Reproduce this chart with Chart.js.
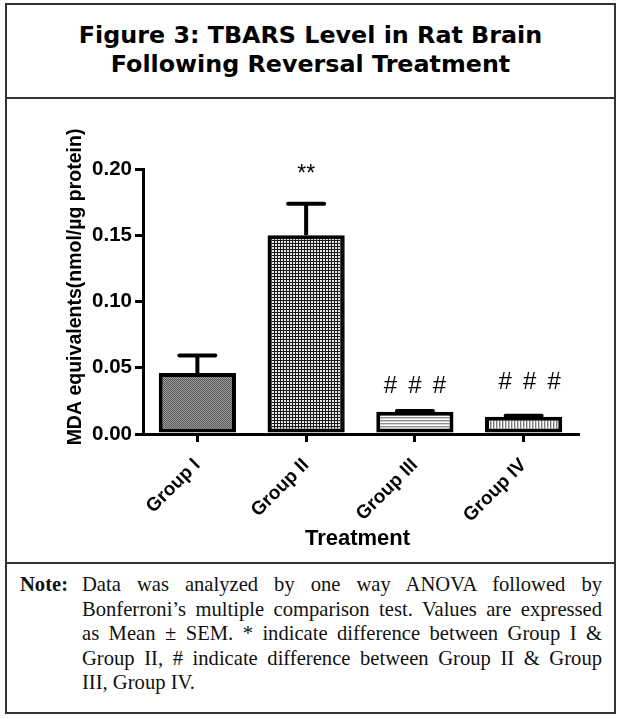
<!DOCTYPE html>
<html><head><meta charset="utf-8">
<script src="https://cdn.jsdelivr.net/npm/chart.js@4.4.0/dist/chart.umd.min.js"></script>
<style>
html,body{margin:0;padding:0;background:#fff;width:621px;height:719px;overflow:hidden;}
#frame{position:absolute;left:5px;top:3px;width:611px;height:711px;box-sizing:border-box;border:2px solid #333;}
.hr{position:absolute;left:5px;width:611px;height:2px;background:#333;}
.tl{position:absolute;left:5px;width:611px;text-align:center;font-family:"DejaVu Sans",sans-serif;font-weight:bold;font-size:23.8px;line-height:29px;color:#000;white-space:nowrap;}
#note{position:absolute;left:20px;top:572px;font-family:"Liberation Serif",serif;font-size:20.6px;line-height:24.5px;color:#111;}
#note .lab{position:absolute;left:0;top:0;font-weight:bold;}
#note .body{position:absolute;left:62px;top:0;width:520px;}
#note .ln{display:block;text-align:justify;text-align-last:justify;white-space:nowrap;}
#note .ln.last{text-align-last:left;}
#c{position:absolute;left:7px;top:99px;}
</style></head>
<body>
<div id="frame"></div>
<div class="tl" style="top:21px;">Figure 3: TBARS Level in Rat Brain</div>
<div class="tl" style="top:50px;">Following Reversal Treatment</div>
<div class="hr" style="top:97px;"></div>
<canvas id="c" width="606" height="462"></canvas>
<div class="hr" style="top:562px;"></div>
<div id="note"><span class="lab">Note:</span><div class="body">
<span class="ln">Data was analyzed by one way ANOVA followed by</span>
<span class="ln">Bonferroni’s multiple comparison test. Values are expressed</span>
<span class="ln">as Mean ± SEM. * indicate difference between Group I &amp;</span>
<span class="ln">Group II, # indicate difference between Group II &amp; Group</span>
<span class="ln last">III, Group IV.</span>
</div></div>
<script>
const categories = ["Group I", "Group II", "Group III", "Group IV"];
const meanValues = [0.046, 0.150, 0.0168, 0.0131];
const semValues = [0.0133, 0.0237, 0.0006, 0.0006];
const yTickValues = [0, 0.05, 0.10, 0.15, 0.20];
const yTickLabels = ["0.00", "0.05", "0.10", "0.15", "0.20"];
const sigMarks = ["", "**", "###", "###"];
const sigMarkValues = [null, 0.191, 0.0309, 0.0339];
const yAxisTitle = "MDA equivalents(nmol/µg protein)";
const xAxisTitle = "Treatment";

const canvas = document.getElementById('c');
const ctx0 = canvas.getContext('2d');
function makePattern(w, h, draw) {
  const t = document.createElement('canvas');
  t.width = w; t.height = h;
  const g = t.getContext('2d');
  draw(g);
  return ctx0.createPattern(t, 'repeat');
}
const patterns = [
  makePattern(2, 2, g => { g.fillStyle = '#9a9a9a'; g.fillRect(0,0,2,2); g.fillStyle = '#5a5a5a'; g.fillRect(0,0,1,1); g.fillRect(1,1,1,1); }),
  makePattern(3, 3, g => { g.fillStyle = '#e8e8e8'; g.fillRect(0,0,3,3); g.fillStyle = '#1a1a1a'; g.fillRect(0,0,3,1); g.fillRect(0,0,1,3); }),
  makePattern(1, 3, g => { g.fillStyle = '#fff'; g.fillRect(0,0,1,3); g.fillStyle = '#8c8c8c'; g.fillRect(0,0,1,1); g.fillStyle = '#d0d0d0'; g.fillRect(0,1,1,1); }),
  makePattern(3, 1, g => { g.fillStyle = '#fff'; g.fillRect(0,0,3,1); g.fillStyle = '#7a7a7a'; g.fillRect(0,0,1,1); g.fillStyle = '#c8c8c8'; g.fillRect(1,0,1,1); })
];
const markShift = [0, 0, 0, 6];

const overlay = {
  id: 'overlay',
  afterDatasetsDraw(chart) {
    const { ctx, scales: { x, y } } = chart;
    ctx.save();
    ctx.strokeStyle = '#000';
    ctx.lineWidth = 4;
    meanValues.forEach((m, i) => {
      const cx = x.getPixelForValue(i);
      const top = y.getPixelForValue(m);
      const et = y.getPixelForValue(m + semValues[i]);
      ctx.lineCap = 'butt';
      ctx.beginPath(); ctx.moveTo(cx, top); ctx.lineTo(cx, et); ctx.stroke();
      ctx.lineCap = 'round';
      ctx.beginPath(); ctx.moveTo(cx - 18, et); ctx.lineTo(cx + 18, et); ctx.stroke();
    });
    ctx.restore();
  },
  afterDraw(chart) {
    const { ctx, scales: { x, y }, chartArea } = chart;
    ctx.save();
    ctx.fillStyle = '#000';
    ctx.textBaseline = 'alphabetic';
    sigMarks.forEach((s, i) => {
      if (!s) return;
      const cx = x.getPixelForValue(i) + markShift[i];
      const by = y.getPixelForValue(sigMarkValues[i]);
      ctx.textAlign = 'center';
      if (s[0] === '#') {
        ctx.font = '24px "Liberation Sans", Arial, sans-serif';
        for (let k = 0; k < s.length; k++) ctx.fillText('#', cx + (k - (s.length - 1) / 2) * 24.5, by);
      } else {
        ctx.font = '23px "Liberation Sans", Arial, sans-serif';
        ctx.fillText(s, cx, by);
      }
    });
    ctx.font = 'bold 22px "Liberation Sans", Arial, sans-serif';
    ctx.textAlign = 'center';
    ctx.fillText(xAxisTitle, (chartArea.left + chartArea.right) / 2 - 3, 446);
    ctx.translate(69, 188);
    ctx.rotate(-Math.PI / 2);
    ctx.font = 'bold 19.5px "Liberation Sans", Arial, sans-serif';
    ctx.textBaseline = 'middle';
    ctx.fillText(yAxisTitle, 0, 0);
    ctx.restore();
  }
};

new Chart(canvas, {
  type: 'bar',
  data: {
    labels: categories,
    datasets: [{
      data: meanValues,
      backgroundColor: patterns,
      borderColor: '#000',
      borderWidth: 4,
      borderSkipped: false,
      barPercentage: 0.71,
      categoryPercentage: 1.0
    }]
  },
  options: {
    responsive: false,
    animation: false,
    devicePixelRatio: 1,
    layout: { padding: { top: 70, right: 35, left: 0, bottom: 0 } },
    plugins: { legend: { display: false }, title: { display: false }, tooltip: { enabled: false } },
    scales: {
      x: {
        offset: true,
        grid: { display: true, drawOnChartArea: false, drawTicks: true, tickLength: 8, lineWidth: 3, color: '#000', offset: false },
        border: { display: true, width: 3, color: '#000' },
        ticks: { color: '#000', font: { family: '"Liberation Sans", Arial, sans-serif', weight: 'bold', size: 19 }, minRotation: 45, maxRotation: 45, padding: 12, autoSkip: false },
        afterFit(s) { s.height = 127; }
      },
      y: {
        min: 0, max: 0.2,
        afterBuildTicks(s) { s.ticks = yTickValues.map(v => ({ value: v })); },
        grid: { drawOnChartArea: false, drawTicks: true, tickLength: 8, lineWidth: 3, color: '#000' },
        border: { display: true, width: 3, color: '#000' },
        ticks: { color: '#000', padding: 3, font: { family: '"Liberation Sans", Arial, sans-serif', weight: 'bold', size: 20.5 },
          callback: (v, i) => yTickLabels[i] },
        afterFit(s) { s.width = 136; }
      }
    }
  },
  plugins: [overlay]
});
</script>
</body></html>
